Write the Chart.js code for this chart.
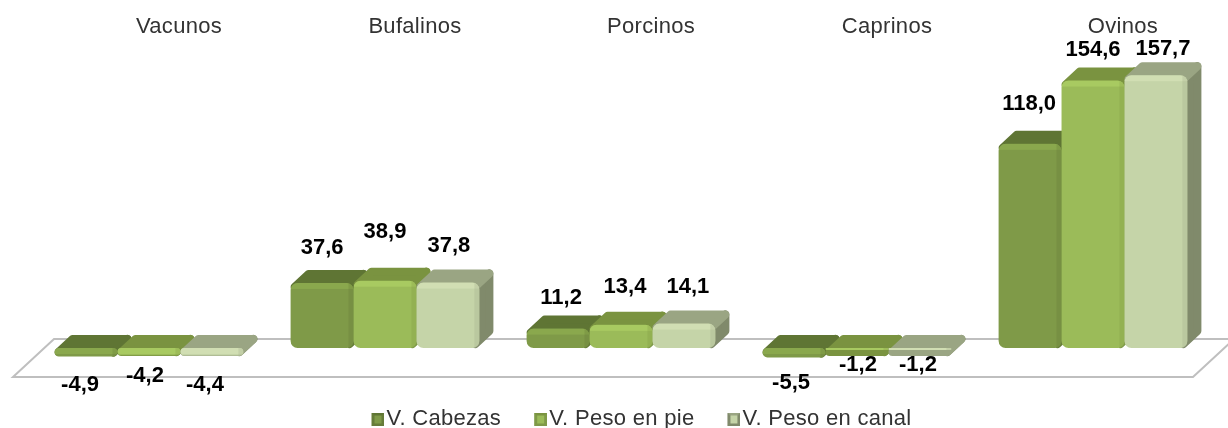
<!DOCTYPE html>
<html>
<head>
<meta charset="utf-8">
<title>Variaciones</title>
<script src="https://cdn.jsdelivr.net/npm/chart.js@4"></script>
<style>
    html, body { margin: 0; padding: 0; background: #fff; }
    #wrap { width: 1228px; height: 428px; }
</style>
</head>
<body>
<div id="wrap"><canvas id="chart" width="1228" height="428"></canvas></div>
<script>
// Datos
const categories = ['Vacunos', 'Bufalinos', 'Porcinos', 'Caprinos', 'Ovinos'];
const seriesNames = ['V. Cabezas', 'V. Peso en pie', 'V. Peso en canal'];
const cabezas = [-4.9, 37.6, 11.2, -5.5, 118.0];
const pesoPie = [-4.2, 38.9, 13.4, -1.2, 154.6];
const pesoCanal = [-4.4, 37.8, 14.1, -1.2, 157.7];

// Colores de cada cara de la barra
const frontColors = ['#7f9a48', '#9bbb59', '#c5d4a8'];
const topColors = ['#5f7534', '#7a9340', '#9aa583'];
const sideColors = ['#667c39', '#7f9a48', '#808a6b'];
const shineColors = ['#8fae50', '#aed065', '#d6e3b8'];

// Las etiquetas de datos están colocadas a mano en el original
const labelShiftX = [[-6, 0, 3, -3, -1], [-4, 0, 4, 1, 0], [-7, 1, 4, -2, 7]];
const labelShiftY = [[28, -35, -31, 25, -40], [21, -49, -38, 15, -31], [29, -37, -37, 15, -26]];

const depthX = 14;
const depthY = 13;
const fontName = '"Liberation Sans", Arial, sans-serif';
const textColor = '#333';

// Cuadrito de la leyenda con bisel
function legendMarker(i) {
    const c = document.createElement('canvas');
    c.width = 19;
    c.height = 13;
    const g = c.getContext('2d');
    g.fillStyle = sideColors[i];
    g.fillRect(6, 0, 13, 13);
    g.fillStyle = topColors[i];
    g.beginPath();
    g.moveTo(6, 0); g.lineTo(19, 0); g.lineTo(15, 4); g.lineTo(10, 4);
    g.closePath();
    g.fill();
    g.fillStyle = frontColors[i];
    g.fillRect(9, 3, 7, 8);
    return c;
}

function rectBar(el) {
    const top = Math.min(el.y, el.base);
    const bottom = Math.max(el.y, el.base);
    return { left: el.x - el.width / 2, right: el.x + el.width / 2, top: top, bottom: bottom };
}

// caras lateral y superior, detrás de la barra
function drawFaces(ctx, meta, i) {
    ctx.save();
    ctx.lineJoin = 'round';
    ctx.lineWidth = 8;
    meta.data.forEach(el => {
        const b = rectBar(el);
        const sideBottom = Math.max(b.top + 4, b.bottom - 4);
        ctx.fillStyle = sideColors[i];
        ctx.strokeStyle = sideColors[i];
        ctx.beginPath();
        ctx.moveTo(b.right - 4, b.top + 4);
        ctx.lineTo(b.right + depthX - 4, b.top - depthY + 4);
        ctx.lineTo(b.right + depthX - 4, sideBottom - depthY);
        ctx.lineTo(b.right - 4, sideBottom);
        ctx.closePath();
        ctx.fill();
        ctx.stroke();
        ctx.fillStyle = topColors[i];
        ctx.strokeStyle = topColors[i];
        ctx.beginPath();
        ctx.moveTo(b.left + 4, b.top + 4);
        ctx.lineTo(b.left + depthX + 4, b.top - depthY + 4);
        ctx.lineTo(b.right + depthX - 4, b.top - depthY + 4);
        ctx.lineTo(b.right - 4, b.top + 4);
        ctx.closePath();
        ctx.fill();
        ctx.stroke();
    });
    ctx.restore();
}

// brillo del bisel sobre el frente
function drawShine(ctx, meta, i) {
    meta.data.forEach(el => {
        const b = rectBar(el);
        ctx.save();
        ctx.beginPath();
        ctx.roundRect(b.left, b.top, b.right - b.left, b.bottom - b.top, 7);
        ctx.clip();
        ctx.globalAlpha = 0.7;
        ctx.fillStyle = shineColors[i];
        ctx.fillRect(b.left, b.top, b.right - b.left, 6);
        ctx.fillStyle = topColors[i];
        ctx.globalAlpha = 0.25;
        ctx.fillRect(b.right - 5, b.top, 5, b.bottom - b.top);
        ctx.restore();
    });
}

// Plugin para el efecto 3D: piso, caras y etiquetas
const chart3d = {
    id: 'chart3d',
    beforeLayout(chart) {
        chart.ctx.letterSpacing = '0.3px';
        const legend = chart.legend;
        if (!legend.patched) {
            const fit = legend.fit;
            legend.fit = function () {
                fit.call(this);
                this.height = 34;
            };
            legend.patched = true;
        }
    },
    afterLayout(chart) {
        // la leyenda no va centrada en el original
        const legend = chart.legend;
        legend.left += 22;
        legend.right += 22;
        legend.top -= 22;
    },
    beforeDatasetsDraw(chart) {
        const ctx = chart.ctx;
        const area = chart.chartArea;
        const zero = chart.scales.y.getPixelForValue(0);
        const back = zero - 9;
        const front = zero + 29;
        ctx.save();
        ctx.strokeStyle = '#bfbfbf';
        ctx.lineWidth = 2;
        ctx.beginPath();
        ctx.moveTo(area.left - 18, front);
        ctx.lineTo(area.left + 23, back);
        ctx.lineTo(area.right + 23, back);
        ctx.lineTo(area.right - 18, front);
        ctx.closePath();
        ctx.stroke();
        ctx.restore();
        // de izquierda a derecha, para que cada barra tape el lado de la anterior
        chart.data.datasets.forEach((ds, i) => {
            const meta = chart.getDatasetMeta(i);
            drawFaces(ctx, meta, i);
            meta.controller.draw();
            drawShine(ctx, meta, i);
        });
        return false;
    },
    afterDraw(chart) {
        // etiquetas de datos
        const ctx = chart.ctx;
        ctx.save();
        ctx.letterSpacing = '0px';
        ctx.font = 'bold 22px ' + fontName;
        ctx.fillStyle = '#000';
        ctx.textAlign = 'center';
        ctx.textBaseline = 'middle';
        chart.data.datasets.forEach((ds, i) => {
            chart.getDatasetMeta(i).data.forEach((el, j) => {
                const text = ds.data[j].toFixed(1).replace('.', ',');
                ctx.fillText(text, el.x + labelShiftX[i][j], el.y + labelShiftY[i][j]);
            });
        });
        ctx.restore();
    }
};

function makeDataset(name, values, i) {
    return {
        label: name,
        data: values,
        backgroundColor: frontColors[i],
        borderRadius: 7,
        borderSkipped: false
    };
}

const ctx = document.getElementById('chart').getContext('2d');
new Chart(ctx, {
    type: 'bar',
    data: {
        labels: categories,
        datasets: [
            makeDataset(seriesNames[0], cabezas, 0),
            makeDataset(seriesNames[1], pesoPie, 1),
            makeDataset(seriesNames[2], pesoCanal, 2)
        ]
    },
    options: {
        responsive: false,
        animation: false,
        layout: { padding: { left: 31, right: 17 } },
        datasets: { bar: { categoryPercentage: 0.8, barPercentage: 1 } },
        scales: {
            x: {
                position: 'top',
                grid: { display: false },
                border: { display: false },
                afterFit(scale) { scale.height = 56; },
                ticks: {
                    autoSkip: false,
                    maxRotation: 0,
                    labelOffset: 30,
                    padding: 8,
                    color: textColor,
                    font: { family: fontName, size: 22 }
                }
            },
            y: { display: false, min: -26.6, max: 168.8 }
        },
        plugins: {
            tooltip: { enabled: false },
            legend: {
                position: 'bottom',
                labels: {
                    usePointStyle: true,
                    pointStyleWidth: 1,
                    padding: 36,
                    color: textColor,
                    font: { family: fontName, size: 22 },
                    generateLabels(chart) {
                        return Chart.defaults.plugins.legend.labels.generateLabels(chart).map((item, i) => {
                            item.pointStyle = legendMarker(i);
                            return item;
                        });
                    }
                }
            }
        }
    },
    plugins: [chart3d]
});
</script>
</body>
</html>
